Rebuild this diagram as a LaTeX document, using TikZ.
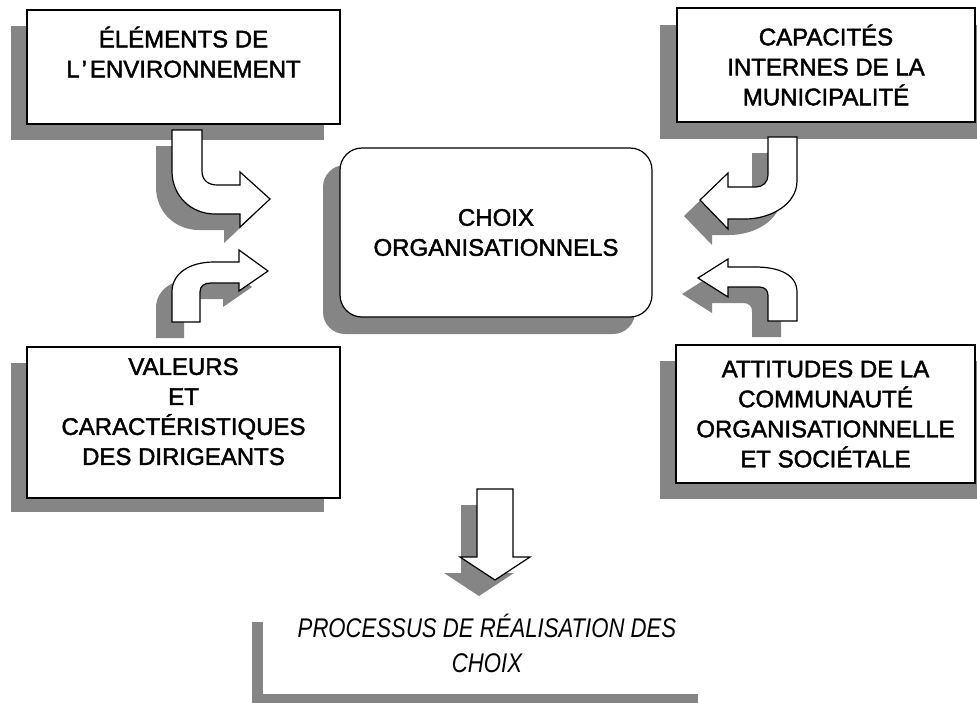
\documentclass[tikz,border=0pt]{standalone}
\usepackage{fontspec}
\setmainfont[FakeBold=1.8]{Liberation Sans}
\newfontfamily\procfont[FakeStretch=0.82]{Liberation Sans}
\usetikzlibrary{positioning}
\definecolor{trame}{gray}{0.52}

\begin{document}
\begin{tikzpicture}[x=1pt,y=-1pt,
   panel/.style={draw,line width=1.2pt,fill=white,align=center,inner sep=0pt,
                 font=\fontsize{24}{30}\selectfont},
   back/.style={fill=trame},
   blk/.style={draw,line width=1.2pt,fill=white,line join=miter,
               preaction={fill=trame,transform canvas={shift={(-16,16)}}}}]
   \useasboundingbox (0,0) rectangle (977,702);
   \clip (0,0) rectangle (977,702);

   % shadows behind the boxes
   \fill[back] (11,26) rectangle (324,140);
   \fill[back] (660,25) rectangle (977,139);
   \fill[back] (11,363) rectangle (324,512);
   \fill[back] (660,361) rectangle (977,499);
   \fill[back,rounded corners=22pt] (323,165) rectangle (635,334);
   \fill[back] (252,622) rectangle (698,710);
   \fill[white] (263,606) rectangle (709,694);

   \node[panel,minimum width=313pt,minimum height=114pt] (envir) at (183.5,67)
      {ÉLÉMENTS DE\\L\kern2pt’\kern3pt ENVIRONNEMENT\\\mbox{}};
   \node[panel,minimum width=298pt,minimum height=114pt] (capac) at (826,65)
      {CAPACITÉS\\INTERNES DE LA\\MUNICIPALITÉ};
   \node[panel,minimum width=313pt,minimum height=151pt] (valeurs) at (183.5,422.5)
      {VALEURS\\ET\\CARACTÉRISTIQUES\\DES DIRIGEANTS\\[-8pt]\mbox{}};
   \node[panel,minimum width=299pt,minimum height=138pt] (attit) at (825.5,414)
      {ATTITUDES DE LA\\COMMUNAUTÉ\\ORGANISATIONNELLE\\ET SOCIÉTALE};
   \node[panel,rounded corners=22pt,minimum width=312pt,minimum height=169pt] (choix) at (496,232.5)
      {CHOIX\\ORGANISATIONNELS};
   \node[align=center,font=\procfont\itshape\fontsize{27}{35}\selectfont] (proc) at (487,643)
      {PROCESSUS DE RÉALISATION DES\\CHOIX};

   % curved block arrows
   \draw[blk] (172,130) -- (172,171)
      .. controls (172,196) and (191,214) .. (215,214) -- (240,214)
      -- (240,227) -- (270,199) -- (240,172) -- (240,185) -- (217,185)
      .. controls (208,185) and (202,180) .. (202,171) -- (202,130) -- cycle;
   \draw[blk] (172,322) -- (172,292)
      .. controls (172,273) and (190,262) .. (214,262) -- (239,262)
      -- (239,250) -- (268,271) -- (239,291) -- (239,283) -- (211,283)
      .. controls (204,283) and (200,286) .. (200,292) -- (200,322) -- cycle;
   \draw[blk] (797,137) -- (797,181)
      .. controls (797,204) and (771,219) .. (745,219) -- (728,219)
      -- (728,229) -- (700,200) -- (728,173) -- (728,187) -- (756,187)
      .. controls (763,187) and (768,182) .. (768,175) -- (768,137) -- cycle;
   \draw[blk] (797,321) -- (797,292)
      .. controls (797,275) and (780,267) .. (755,267) -- (728,267)
      -- (728,259) -- (698,278) -- (728,297) -- (728,287) -- (759,287)
      .. controls (765,287) and (768,290) .. (768,296) -- (768,321) -- cycle;
   \draw[blk] (477,489) -- (513,489) -- (513,557) -- (530,557)
      -- (495,580) -- (460,557) -- (477,557) -- cycle;
\end{tikzpicture}
\end{document}
